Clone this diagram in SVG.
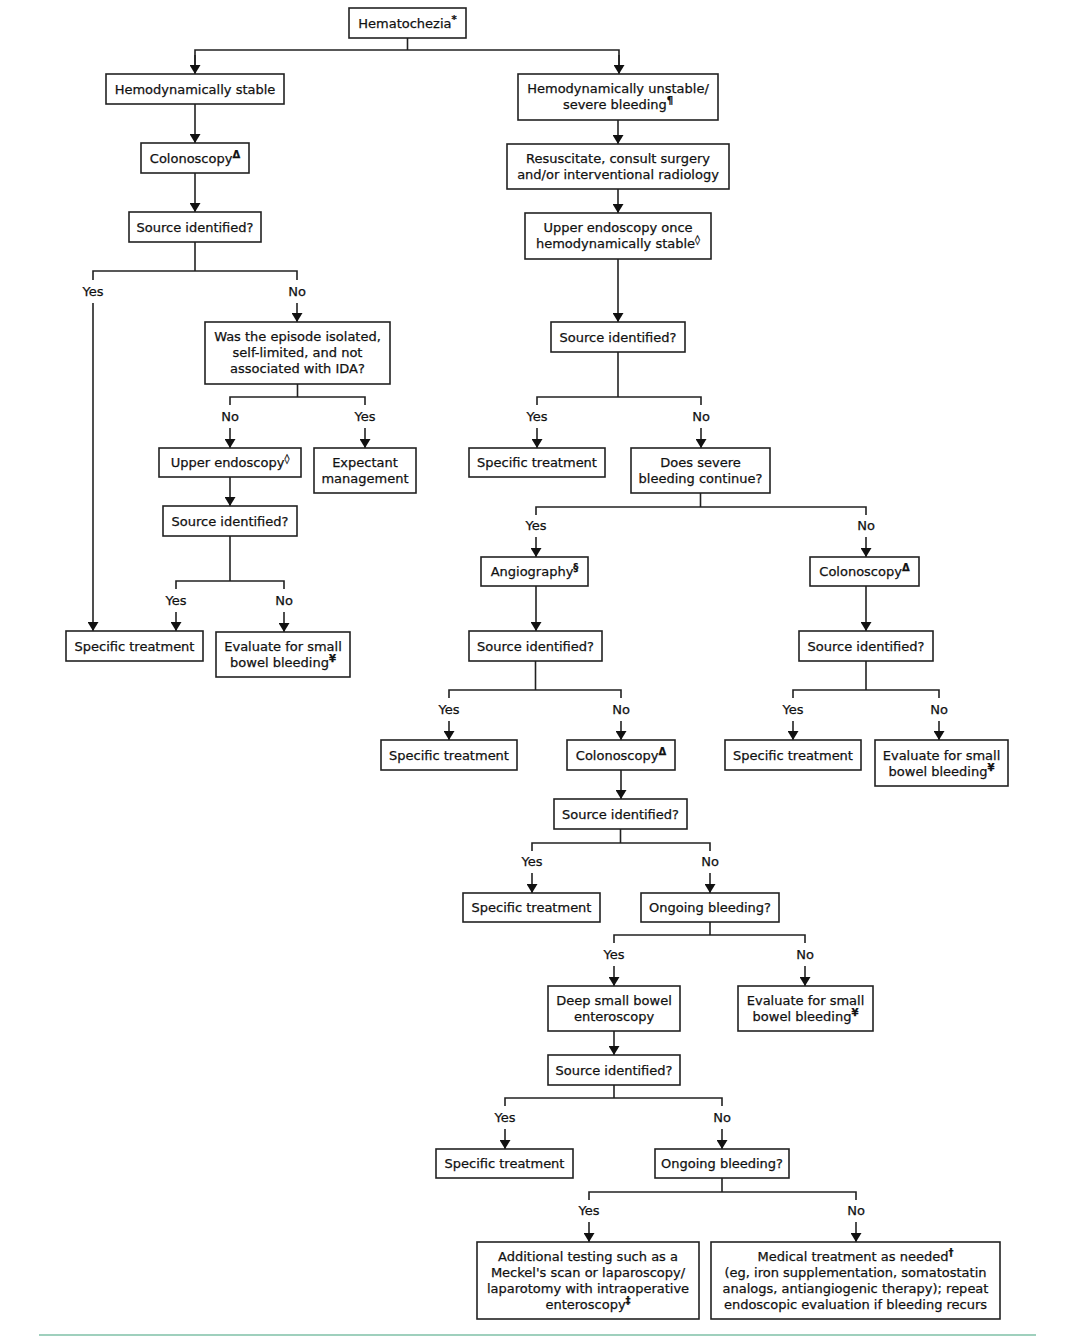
<svg xmlns="http://www.w3.org/2000/svg" width="1077" height="1336" viewBox="0 0 1077 1336">
<defs>
<marker id="ah" viewBox="0 0 9 11" refX="9" refY="5.5" markerWidth="9" markerHeight="11" markerUnits="userSpaceOnUse" orient="auto">
<path d="M0,0 L9,5.5 L0,11 z" fill="#111"/>
</marker>
<style>
rect{fill:#fff;stroke:#222;stroke-width:1.6}
text{font-family:"DejaVu Sans","Liberation Sans",sans-serif;font-size:13px;fill:#111;stroke:#111;stroke-width:0.25;text-anchor:middle}
.sup{font-size:10px;font-weight:bold}
#connectors path,#connectors line{stroke:#222;stroke-width:1.6;fill:none}
.arr{marker-end:url(#ah)}
</style>
</defs>
<rect x="0" y="0" width="1077" height="1336" style="fill:#fff;stroke:none"/>

<g id="connectors">
<line x1="407.5" y1="38" x2="407.5" y2="50"/>
<path d="M195,73 V50 H619 V73"/>
<line class="arr" x1="195" y1="55" x2="195" y2="74"/>
<line class="arr" x1="619" y1="55" x2="619" y2="74"/>
<line class="arr" x1="195" y1="104" x2="195" y2="143"/>
<line class="arr" x1="195" y1="173" x2="195" y2="212"/>
<line class="arr" x1="618" y1="120" x2="618" y2="144"/>
<line class="arr" x1="618" y1="189" x2="618" y2="213"/>
<line class="arr" x1="618" y1="259" x2="618" y2="322"/>

<line x1="195" y1="242" x2="195" y2="271"/>
<path d="M93,280 V271 H297 V280"/>
<line class="arr" x1="93" y1="303" x2="93" y2="631"/>
<line class="arr" x1="297" y1="303" x2="297" y2="322"/>

<line x1="297.5" y1="384" x2="297.5" y2="397"/>
<path d="M230,405 V397 H365 V405"/>
<line class="arr" x1="230" y1="428" x2="230" y2="448"/>
<line class="arr" x1="365" y1="428" x2="365" y2="448"/>
<line class="arr" x1="230" y1="477" x2="230" y2="506"/>

<line x1="230" y1="536" x2="230" y2="581"/>
<path d="M176,589 V581 H284 V589"/>
<line class="arr" x1="176" y1="612" x2="176" y2="631"/>
<line class="arr" x1="284" y1="612" x2="284" y2="632"/>

<line x1="618" y1="352" x2="618" y2="397"/>
<path d="M537,405 V397 H701 V405"/>
<line class="arr" x1="537" y1="428" x2="537" y2="448"/>
<line class="arr" x1="701" y1="428" x2="701" y2="448"/>

<line x1="700.5" y1="493" x2="700.5" y2="507"/>
<path d="M536,515 V507 H866 V515"/>
<line class="arr" x1="536" y1="537" x2="536" y2="557"/>
<line class="arr" x1="866" y1="537" x2="866" y2="557"/>
<line class="arr" x1="536" y1="586" x2="536" y2="631"/>
<line class="arr" x1="866" y1="586" x2="866" y2="631"/>

<line x1="535.5" y1="661" x2="535.5" y2="690"/>
<path d="M449,698 V690 H621 V698"/>
<line class="arr" x1="449" y1="721" x2="449" y2="740"/>
<line class="arr" x1="621" y1="721" x2="621" y2="740"/>

<line x1="866" y1="661" x2="866" y2="690"/>
<path d="M793,698 V690 H939 V698"/>
<line class="arr" x1="793" y1="721" x2="793" y2="740"/>
<line class="arr" x1="939" y1="721" x2="939" y2="740"/>

<line class="arr" x1="621" y1="770" x2="621" y2="799"/>

<line x1="620.5" y1="829" x2="620.5" y2="843"/>
<path d="M532,851 V843 H710 V851"/>
<line class="arr" x1="532" y1="873" x2="532" y2="893"/>
<line class="arr" x1="710" y1="873" x2="710" y2="893"/>

<line x1="710" y1="922" x2="710" y2="935"/>
<path d="M614,943 V935 H805 V943"/>
<line class="arr" x1="614" y1="966" x2="614" y2="986"/>
<line class="arr" x1="805" y1="966" x2="805" y2="986"/>
<line class="arr" x1="614" y1="1031" x2="614" y2="1055"/>

<line x1="614" y1="1085" x2="614" y2="1098"/>
<path d="M505,1106 V1098 H722 V1106"/>
<line class="arr" x1="505" y1="1129" x2="505" y2="1149"/>
<line class="arr" x1="722" y1="1129" x2="722" y2="1149"/>

<line x1="722" y1="1178" x2="722" y2="1192"/>
<path d="M589,1200 V1192 H856 V1200"/>
<line class="arr" x1="589" y1="1222" x2="589" y2="1242"/>
<line class="arr" x1="856" y1="1222" x2="856" y2="1242"/>
</g>

<g id="labels">
<text x="93" y="296">Yes</text><text x="297" y="296">No</text>
<text x="230" y="421">No</text><text x="365" y="421">Yes</text>
<text x="176" y="605">Yes</text><text x="284" y="605">No</text>
<text x="537" y="421">Yes</text><text x="701" y="421">No</text>
<text x="536" y="530">Yes</text><text x="866" y="530">No</text>
<text x="449" y="714">Yes</text><text x="621" y="714">No</text>
<text x="793" y="714">Yes</text><text x="939" y="714">No</text>
<text x="532" y="866">Yes</text><text x="710" y="866">No</text>
<text x="614" y="959">Yes</text><text x="805" y="959">No</text>
<text x="505" y="1122">Yes</text><text x="722" y="1122">No</text>
<text x="589" y="1215">Yes</text><text x="856" y="1215">No</text>
</g>

<g id="n1"><rect x="349" y="8" width="117" height="30"/><text x="407.5" y="27.5">Hematochezia<tspan class="sup" dy="-5">*</tspan></text></g>
<g id="n2"><rect x="106" y="74" width="178" height="30"/><text x="195" y="93.5">Hemodynamically stable</text></g>
<g id="n3"><rect x="518" y="74" width="200" height="46"/><text x="618" y="93">Hemodynamically unstable/</text><text x="618" y="109">severe bleeding<tspan class="sup" dy="-5">¶</tspan></text></g>
<g id="n4"><rect x="141" y="143" width="108" height="30"/><text x="195" y="162.5">Colonoscopy<tspan class="sup" dy="-5">Δ</tspan></text></g>
<g id="n5"><rect x="507" y="144" width="222" height="45"/><text x="618" y="162.5">Resuscitate, consult surgery</text><text x="618" y="178.5">and/or interventional radiology</text></g>
<g id="n6"><rect x="129" y="212" width="132" height="30"/><text x="195" y="231.5">Source identified?</text></g>
<g id="n7"><rect x="525" y="213" width="186" height="46"/><text x="618" y="232">Upper endoscopy once</text><text x="618" y="248">hemodynamically stable<tspan class="sup" dy="-5">◊</tspan></text></g>
<g id="n8"><rect x="205" y="322" width="185" height="62"/><text x="297.5" y="341">Was the episode isolated,</text><text x="297.5" y="357">self-limited, and not</text><text x="297.5" y="373">associated with IDA?</text></g>
<g id="n9"><rect x="551" y="322" width="134" height="30"/><text x="618" y="341.5">Source identified?</text></g>
<g id="n10"><rect x="159" y="448" width="142" height="29"/><text x="230" y="467">Upper endoscopy<tspan class="sup" dy="-5">◊</tspan></text></g>
<g id="n11"><rect x="314" y="448" width="102" height="45"/><text x="365" y="467">Expectant</text><text x="365" y="483">management</text></g>
<g id="n12"><rect x="163" y="506" width="134" height="30"/><text x="230" y="525.5">Source identified?</text></g>
<g id="n13"><rect x="66" y="631" width="137" height="30"/><text x="134.5" y="650.5">Specific treatment</text></g>
<g id="n14"><rect x="216" y="632" width="134" height="45"/><text x="283" y="650.5">Evaluate for small</text><text x="283" y="666.5">bowel bleeding<tspan class="sup" dy="-5">¥</tspan></text></g>
<g id="n15"><rect x="469" y="448" width="136" height="29"/><text x="537" y="467">Specific treatment</text></g>
<g id="n16"><rect x="631" y="448" width="139" height="45"/><text x="700.5" y="467">Does severe</text><text x="700.5" y="483">bleeding continue?</text></g>
<g id="n17"><rect x="481" y="557" width="107" height="29"/><text x="534.5" y="576">Angiography<tspan class="sup" dy="-5">§</tspan></text></g>
<g id="n18"><rect x="810" y="557" width="109" height="29"/><text x="864.5" y="576">Colonoscopy<tspan class="sup" dy="-5">Δ</tspan></text></g>
<g id="n19"><rect x="469" y="631" width="133" height="30"/><text x="535.5" y="650.5">Source identified?</text></g>
<g id="n20"><rect x="799" y="631" width="134" height="30"/><text x="866" y="650.5">Source identified?</text></g>
<g id="n21"><rect x="381" y="740" width="136" height="30"/><text x="449" y="759.5">Specific treatment</text></g>
<g id="n22"><rect x="567" y="740" width="108" height="30"/><text x="621" y="759.5">Colonoscopy<tspan class="sup" dy="-5">Δ</tspan></text></g>
<g id="n23"><rect x="725" y="740" width="136" height="30"/><text x="793" y="759.5">Specific treatment</text></g>
<g id="n24"><rect x="875" y="740" width="133" height="46"/><text x="941.5" y="759.5">Evaluate for small</text><text x="941.5" y="775.5">bowel bleeding<tspan class="sup" dy="-5">¥</tspan></text></g>
<g id="n25"><rect x="554" y="799" width="133" height="30"/><text x="620.5" y="818.5">Source identified?</text></g>
<g id="n26"><rect x="463" y="893" width="137" height="29"/><text x="531.5" y="912">Specific treatment</text></g>
<g id="n27"><rect x="641" y="893" width="138" height="29"/><text x="710" y="912">Ongoing bleeding?</text></g>
<g id="n28"><rect x="548" y="986" width="132" height="45"/><text x="614" y="1004.5">Deep small bowel</text><text x="614" y="1020.5">enteroscopy</text></g>
<g id="n29"><rect x="738" y="986" width="135" height="45"/><text x="805.5" y="1004.5">Evaluate for small</text><text x="805.5" y="1020.5">bowel bleeding<tspan class="sup" dy="-5">¥</tspan></text></g>
<g id="n30"><rect x="548" y="1055" width="132" height="30"/><text x="614" y="1074.5">Source identified?</text></g>
<g id="n31"><rect x="436" y="1149" width="137" height="29"/><text x="504.5" y="1168">Specific treatment</text></g>
<g id="n32"><rect x="655" y="1149" width="134" height="29"/><text x="722" y="1168">Ongoing bleeding?</text></g>
<g id="n33"><rect x="477" y="1242" width="222" height="77"/><text x="588" y="1260.5">Additional testing such as a</text><text x="588" y="1276.5">Meckel's scan or laparoscopy/</text><text x="588" y="1292.5">laparotomy with intraoperative</text><text x="588" y="1308.5">enteroscopy<tspan class="sup" dy="-5">‡</tspan></text></g>
<g id="n34"><rect x="711" y="1242" width="289" height="77"/><text x="855.5" y="1260.5">Medical treatment as needed<tspan class="sup" dy="-5">†</tspan></text><text x="855.5" y="1276.5">(eg, iron supplementation, somatostatin</text><text x="855.5" y="1292.5">analogs, antiangiogenic therapy); repeat</text><text x="855.5" y="1308.5">endoscopic evaluation if bleeding recurs</text></g>

<line x1="39" y1="1335" x2="1036" y2="1335" style="stroke:#7fc0a7;stroke-width:1.5"/>
</svg>
